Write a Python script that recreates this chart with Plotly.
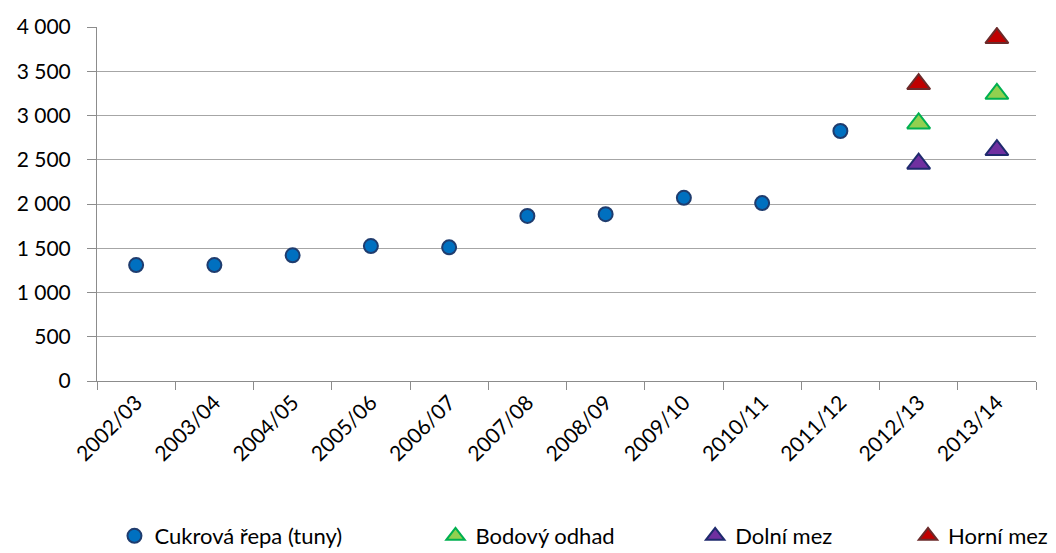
import plotly.graph_objects as go

seasons = ["2002/03", "2003/04", "2004/05", "2005/06", "2006/07", "2007/08",
           "2008/09", "2009/10", "2010/11", "2011/12", "2012/13", "2013/14"]
beet_seasons = seasons[:10]
beet_values = [1310, 1310, 1420, 1525, 1510, 1865, 1885, 2070, 2010, 2825]
forecast_seasons = ["2012/13", "2013/14"]
point_estimate = [2910, 3245]
lower_bound = [2455, 2610]
upper_bound = [3355, 3875]
y_ticks = [0, 500, 1000, 1500, 2000, 2500, 3000, 3500, 4000]

FONT = "Lato"
FS = 21
LFS = 22
# page body has an 8px default margin: figure is sized/offset to compensate
W, H = 1048, 545
fig = go.Figure()

fig.add_trace(go.Scatter(
    x=beet_seasons, y=beet_values, mode="markers", name="Cukrová řepa (tuny)",
    marker=dict(symbol="circle", size=14, color="#0070C0",
                line=dict(color="#1F3C6E", width=2)),
    legend="legend"))
fig.add_trace(go.Scatter(
    x=forecast_seasons, y=point_estimate, mode="markers", name="Bodový odhad",
    marker=dict(symbol="triangle-up", size=20, color="#92D050",
                line=dict(color="#00B050", width=2)),
    legend="legend2"))
fig.add_trace(go.Scatter(
    x=forecast_seasons, y=lower_bound, mode="markers", name="Dolní mez",
    marker=dict(symbol="triangle-up", size=20, color="#7030A0",
                line=dict(color="#1F2A6E", width=2)),
    legend="legend3"))
fig.add_trace(go.Scatter(
    x=forecast_seasons, y=upper_bound, mode="markers", name="Horní mez",
    marker=dict(symbol="triangle-up", size=20, color="#C00000",
                line=dict(color="#6B2A2A", width=2)),
    legend="legend4"))

def leg(x):
    return dict(x=x, y=17 / H, yref="container", xanchor="left", yanchor="middle",
                orientation="h", bgcolor="rgba(0,0,0,0)", borderwidth=0,
                font=dict(family=FONT, size=LFS, color="#000000"),
                itemwidth=30, tracegroupgap=0)

fig.update_layout(
    width=W, height=H,
    margin=dict(l=89, r=20, t=19, b=172, autoexpand=False),
    paper_bgcolor="white", plot_bgcolor="white",
    separators=", ",
    font=dict(family=FONT, size=FS, color="#000000"),
    showlegend=True,
    legend=leg(0.0186),
    legend2=leg(0.3605),
    legend3=leg(0.637),
    legend4=leg(0.8637),
    xaxis=dict(
        type="category", categoryorder="array", categoryarray=seasons,
        range=[-0.5, 11.5], showline=True, linecolor="#8C8C8C", linewidth=1,
        ticks="outside", tickson="boundaries", ticklen=8, tickcolor="#8C8C8C",
        tickangle=-45, showgrid=False, automargin=False,
        tickfont=dict(family=FONT, size=FS)),
    yaxis=dict(
        range=[0, 4000], tickvals=y_ticks, tickformat=",d",
        showline=True, linecolor="#8C8C8C", linewidth=1,
        ticks="outside", ticklen=9, tickcolor="#8C8C8C", automargin=False,
        ticklabelstandoff=12,
        showgrid=True, gridcolor="#A6A6A6", gridwidth=1, zeroline=False,
        tickfont=dict(family=FONT, size=FS)),
)

fig.write_html("out.html")
